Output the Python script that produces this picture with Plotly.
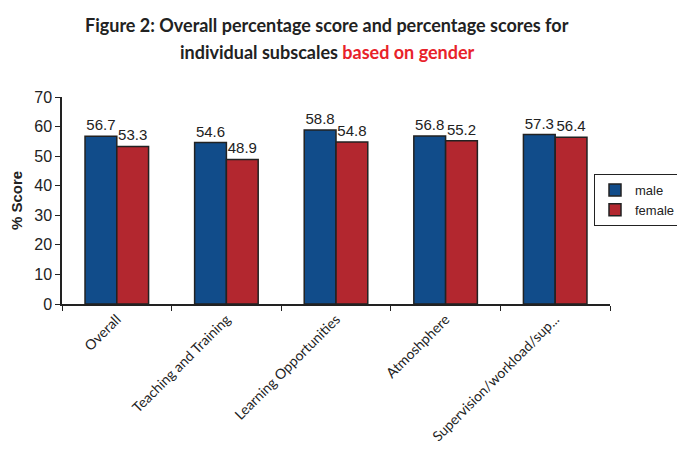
import plotly.graph_objects as go

categories = ["Overall", "Teaching and Training", "Learning Opportunities", "Atmoshphere", "Supervision/workload/sup..."]
male = [56.7, 54.6, 58.8, 56.8, 57.3]
female = [53.3, 48.9, 54.8, 55.2, 56.4]
y_ticks = [0, 10, 20, 30, 40, 50, 60, 70]
title_line1 = "Figure 2: Overall percentage score and percentage scores for"
title_line2 = "individual subscales <span style='color:#E8222A'>based on gender</span>"

fig = go.Figure()
fig.add_trace(go.Bar(
    name="male", x=categories, y=male,
    marker=dict(color="#114C8A", line=dict(color="#222222", width=1.5)),
    text=[f"{v:.1f}" for v in male], textposition="outside", constraintext="none",
    cliponaxis=False,
    textfont=dict(family="Liberation Sans, Arial", size=15, color="#222222"),
))
fig.add_trace(go.Bar(
    name="female", x=categories, y=female,
    marker=dict(color="#B3272F", line=dict(color="#222222", width=1.5)),
    text=[f"{v:.1f}" for v in female], textposition="outside", constraintext="none",
    cliponaxis=False,
    textfont=dict(family="Liberation Sans, Arial", size=15, color="#222222"),
))

# page body has an 8px default margin; figure coords = screen coords - 8
off = 8
L, R, T, B = 62 - off, 610 - off, 97 - off, 304 - off
plot_w = R - L
plot_h = B - T

def px_x(sx):
    return (sx - off - L) / plot_w

def px_y(sy):
    return (B - (sy - off)) / plot_h

title_font = dict(family="Lato, Open Sans", size=18, color="#222222")
fig.update_layout(
    width=685, height=457,
    margin=dict(l=L, r=685 - R, t=T, b=457 - B, autoexpand=False),
    paper_bgcolor="white", plot_bgcolor="white",
    barmode="group", bargap=0.42, bargroupgap=0,
    annotations=[
        dict(text=f"<b>{title_line1}</b>", xref="paper", yref="paper",
             x=px_x(327), y=px_y(25), xanchor="center", yanchor="middle",
             showarrow=False, font=title_font),
        dict(text=f"<b>{title_line2}</b>", xref="paper", yref="paper",
             x=px_x(327), y=px_y(52), xanchor="center", yanchor="middle",
             showarrow=False, font=title_font),
    ],
    legend=dict(
        x=px_x(594), y=px_y(174), xanchor="left", yanchor="top",
        bordercolor="#222222", borderwidth=1,
        font=dict(family="Liberation Sans, Arial", size=13, color="#222222"),
        tracegroupgap=0, itemwidth=30,
    ),
    showlegend=True,
)
fig.update_yaxes(
    range=[0, 70], tickvals=y_ticks, showgrid=False, automargin=False,
    showline=True, linecolor="#222222", linewidth=1.5,
    ticks="outside", ticklen=5, tickcolor="#222222",
    tickfont=dict(family="Liberation Sans, Arial", size=16, color="#222222"),
    title=dict(text="<b>% Score</b>", font=dict(family="Liberation Sans, Arial", size=15, color="#222222"), standoff=8),
    zeroline=False,
)
fig.update_xaxes(
    showline=True, linecolor="#222222", linewidth=1.5, automargin=False,
    ticks="outside", ticklen=5, tickcolor="#222222", tickson="boundaries",
    tickangle=-45,
    tickfont=dict(family="Lato, Open Sans", size=14, color="#222222"),
)

fig.write_html("out.html")
